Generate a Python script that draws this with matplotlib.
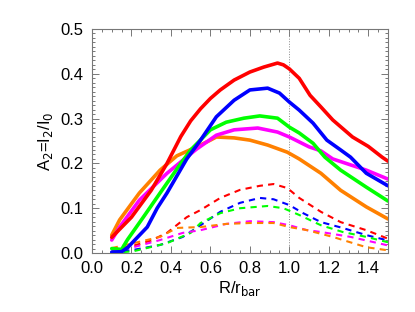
import numpy as np
import matplotlib
matplotlib.use('Agg')
import matplotlib.pyplot as plt
from matplotlib.ticker import MultipleLocator

plt.rcParams['font.family'] = ['Liberation Sans', 'DejaVu Sans']

# Solid curves: A2 of the stellar bar
r_red = [0.10, 0.20, 0.30, 0.38, 0.45, 0.50, 0.55, 0.60, 0.65, 0.72, 0.80, 0.87, 0.94, 0.97, 1.00, 1.05, 1.105, 1.16, 1.22, 1.32, 1.40, 1.47, 1.50]
a_red = [0.035, 0.08, 0.14, 0.20, 0.26, 0.295, 0.322, 0.345, 0.364, 0.386, 0.404, 0.415, 0.424, 0.420, 0.411, 0.39, 0.352, 0.326, 0.297, 0.259, 0.238, 0.214, 0.205]

r_blue = [0.10, 0.15, 0.18, 0.28, 0.33, 0.38, 0.48, 0.55, 0.63, 0.72, 0.80, 0.89, 0.95, 1.00, 1.05, 1.12, 1.19, 1.26, 1.31, 1.39, 1.50]
a_blue = [0.002, 0.003, 0.012, 0.058, 0.10, 0.134, 0.21, 0.252, 0.304, 0.341, 0.364, 0.368, 0.357, 0.337, 0.319, 0.29, 0.252, 0.23, 0.214, 0.178, 0.150]

r_green = [0.10, 0.15, 0.18, 0.26, 0.345, 0.45, 0.50, 0.60, 0.68, 0.77, 0.85, 0.94, 1.00, 1.05, 1.12, 1.18, 1.26, 1.39, 1.50]
a_green = [0.010, 0.008, 0.03, 0.08, 0.134, 0.20, 0.23, 0.275, 0.292, 0.301, 0.306, 0.301, 0.281, 0.268, 0.245, 0.214, 0.185, 0.147, 0.116]

r_mag = [0.10, 0.14, 0.24, 0.38, 0.46, 0.53, 0.63, 0.72, 0.84, 0.94, 1.00, 1.10, 1.16, 1.22, 1.39, 1.50]
a_mag = [0.029, 0.058, 0.118, 0.178, 0.207, 0.232, 0.263, 0.275, 0.279, 0.270, 0.259, 0.237, 0.228, 0.210, 0.185, 0.165]

r_org = [0.10, 0.14, 0.24, 0.345, 0.43, 0.53, 0.60, 0.63, 0.72, 0.80, 0.89, 0.99, 1.05, 1.16, 1.26, 1.39, 1.50]
a_org = [0.040, 0.074, 0.134, 0.185, 0.217, 0.237, 0.252, 0.259, 0.257, 0.252, 0.241, 0.225, 0.210, 0.178, 0.140, 0.103, 0.076]

# Dashed curves: second component
r_red_d = [0.10, 0.20, 0.30, 0.38, 0.48, 0.55, 0.65, 0.75, 0.85, 0.92, 0.99, 1.05, 1.16, 1.26, 1.39, 1.50]
a_red_d = [0.008, 0.015, 0.028, 0.045, 0.08, 0.096, 0.123, 0.141, 0.150, 0.154, 0.145, 0.123, 0.092, 0.069, 0.051, 0.032]

r_blue_d = [0.10, 0.21, 0.345, 0.46, 0.55, 0.65, 0.75, 0.85, 0.92, 1.00, 1.07, 1.16, 1.27, 1.39, 1.50]
a_blue_d = [0.002, 0.007, 0.018, 0.036, 0.062, 0.092, 0.112, 0.123, 0.120, 0.107, 0.089, 0.069, 0.056, 0.040, 0.028]

r_green_d = [0.10, 0.21, 0.38, 0.50, 0.55, 0.65, 0.75, 0.89, 0.97, 1.05, 1.16, 1.27, 1.39, 1.50]
a_green_d = [0.000, 0.004, 0.022, 0.045, 0.067, 0.089, 0.100, 0.105, 0.100, 0.085, 0.062, 0.047, 0.036, 0.024]

r_mag_d = [0.10, 0.21, 0.345, 0.46, 0.55, 0.68, 0.80, 0.92, 1.00, 1.09, 1.16, 1.31, 1.50]
a_mag_d = [0.004, 0.013, 0.029, 0.045, 0.051, 0.065, 0.071, 0.069, 0.062, 0.051, 0.047, 0.036, 0.017]

r_org_d = [0.10, 0.21, 0.345, 0.43, 0.55, 0.68, 0.80, 0.92, 1.00, 1.09, 1.22, 1.39, 1.50]
a_org_d = [0.011, 0.022, 0.036, 0.056, 0.058, 0.065, 0.067, 0.067, 0.058, 0.051, 0.036, 0.013, 0.006]

c_red, c_blue, c_green, c_mag, c_org = '#ff0000', '#0000ff', '#00ff00', '#ff00ff', '#ff8000'

fig = plt.figure(figsize=(4.15, 3.12), dpi=100)
ax = fig.add_axes([0.2217, 0.189, 0.7133, 0.718])

# dotted marker at the bar radius
ax.axvline(1.0, color='#888888', lw=0.7, ls=':')

solid = [(r_red, a_red, c_red), (r_blue, a_blue, c_blue), (r_green, a_green, c_green),
         (r_mag, a_mag, c_mag), (r_org, a_org, c_org)]
dashed = [(r_red_d, a_red_d, c_red), (r_blue_d, a_blue_d, c_blue), (r_green_d, a_green_d, c_green),
          (r_mag_d, a_mag_d, c_mag), (r_org_d, a_org_d, c_org)]

for r, a, c in dashed:
    ax.plot(r, a, color=c, lw=1.5, ls=(0, (3, 2.5)))
for r, a, c in solid[::-1]:
    ax.plot(r, a, color=c, lw=2.6, solid_capstyle='round', solid_joinstyle='round')

ax.set_xlim(0, 1.5)
ax.set_ylim(0, 0.5)
ax.xaxis.set_major_locator(MultipleLocator(0.2))
ax.xaxis.set_minor_locator(MultipleLocator(0.05))
ax.yaxis.set_major_locator(MultipleLocator(0.1))
ax.yaxis.set_minor_locator(MultipleLocator(0.01))
ax.xaxis.set_major_formatter(lambda v, p: f'{v:.1f}')
ax.yaxis.set_major_formatter(lambda v, p: f'{v:.1f}')

ax.tick_params(which='both', direction='in', top=True, right=True, color='#777777',
               labelsize=12, width=0.7)
ax.tick_params(which='major', length=5, pad=6)
ax.tick_params(which='minor', length=2.5)
for s in ax.spines.values():
    s.set_color('#777777')
    s.set_linewidth(0.8)

ax.set_xlabel('R/r$_{\\rm bar}$', fontsize=12, labelpad=2)
ax.set_ylabel('A$_2$=I$_2$/I$_0$', fontsize=12, labelpad=4)

fig.savefig('out.png', dpi=100)
